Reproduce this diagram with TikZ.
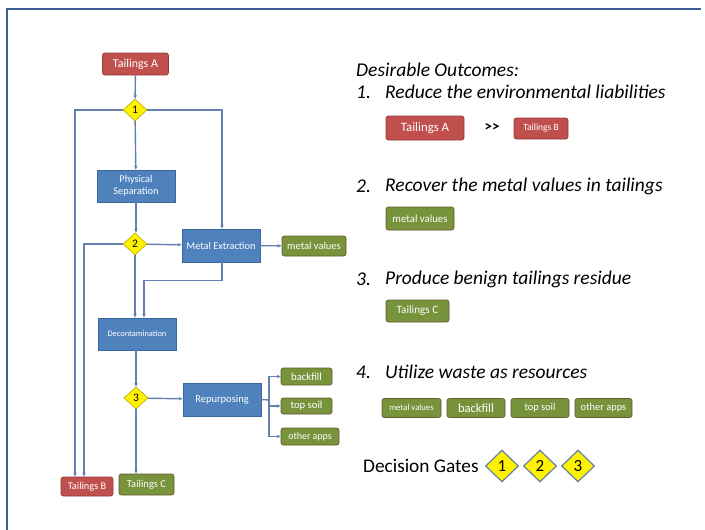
\documentclass[tikz,border=0pt]{standalone}
\usepackage{fontspec}
\setmainfont{Carlito}
\usetikzlibrary{shapes.geometric,arrows.meta,calc}
\definecolor{bluefill}{HTML}{4F81BD}
\definecolor{blueedge}{HTML}{3A679C}
\definecolor{redfill}{HTML}{C0504D}
\definecolor{rededge}{HTML}{9B3B38}
\definecolor{greenfill}{HTML}{77933C}
\definecolor{greenedge}{HTML}{6B5A2E}
\definecolor{linecol}{HTML}{6580B0}
\definecolor{gateedge}{HTML}{B8A800}
\definecolor{frame}{HTML}{3E5F95}
\tikzset{
  proc/.style={draw=blueedge, fill=bluefill, line width=0.8pt, text=white, align=center, inner sep=0pt, font=\fontsize{10.3}{12}\selectfont},
  redbox/.style={draw=rededge, fill=redfill, line width=0.8pt, rounded corners=2.5pt, text=white, inner sep=0pt, font=\fontsize{10.5}{12}\selectfont},
  greenbox/.style={draw=greenedge, fill=greenfill, line width=0.8pt, rounded corners=2.5pt, text=white, inner sep=0pt, font=\fontsize{10.5}{12}\selectfont},
  gate/.style={diamond, draw=gateedge, fill=yellow, line width=0.6pt, inner sep=0pt, minimum width=24pt, minimum height=22pt, font=\fontsize{11.5}{12}\selectfont},
  biggate/.style={diamond, draw=frame!80, fill=yellow, line width=1.2pt, inner sep=0pt, minimum width=33pt, minimum height=32pt, font=\fontsize{17}{18}\selectfont},
  conn/.style={draw=linecol, line width=1.4pt},
  arr/.style={conn, -{Stealth[length=4pt,width=3.5pt]}},
  heading/.style={anchor=west, inner sep=0pt, font=\fontsize{19.5}{22}\selectfont\itshape},
}
\begin{document}
\begin{tikzpicture}[x=1pt,y=-1pt]
\useasboundingbox (0,0) rectangle (705,530);
\fill[white] (0,0) rectangle (705,530);
% frame
\draw[frame, line width=2.5pt] (7,530) -- (7,9) -- (701,9);

% flow chart nodes
\node[redbox, minimum width=66pt, minimum height=22pt, font=\fontsize{12}{14}\selectfont] (tA) at (135.5,64) {Tailings A};
\node[gate] (d1) at (135,110) {1};
\node[proc, minimum width=78pt, minimum height=32pt] (ps) at (136,186) {Physical\\Separation};
\node[gate] (d2) at (135,244) {2};
\node[proc, minimum width=78pt, minimum height=33pt] (me) at (221,245.5) {Metal Extraction};
\node[greenbox, minimum width=64pt, minimum height=20pt] (mv) at (314,246) {metal values};
\node[proc, minimum width=78pt, minimum height=32pt, font=\fontsize{8.4}{10}\selectfont] (dc) at (137,334) {Decontamination};
\node[gate] (d3) at (136,398) {3};
\node[proc, minimum width=78pt, minimum height=33pt, font=\fontsize{10.5}{12}\selectfont] (rp) at (222,399.5) {Repurposing};
\node[greenbox, minimum width=51pt, minimum height=17pt, font=\fontsize{10.7}{12}\selectfont] (bf) at (306.5,376.5) {backfill};
\node[greenbox, minimum width=51pt, minimum height=16pt, font=\fontsize{10.7}{12}\selectfont] (ts) at (306.5,406) {top soil};
\node[greenbox, minimum width=58pt, minimum height=17pt, font=\fontsize{9.9}{11}\selectfont] (oa) at (310,436.5) {other apps};
\node[redbox, minimum width=52pt, minimum height=19pt, font=\fontsize{10.3}{12}\selectfont] (tB) at (87,486.5) {Tailings B};
\node[greenbox, minimum width=55pt, minimum height=21pt, font=\fontsize{10.5}{12}\selectfont] (tC) at (146.5,484.5) {Tailings C};
\coordinate (j) at (269,400);

% connectors
\draw[arr] (tA) -- (d1);
\draw[arr] (d1.west) -| ([xshift=-12pt]tB.north);
\draw[arr] (d1.east) -| ([xshift=1pt]me.north);
\draw[arr] (d1) -- (ps);
\draw[arr] (ps.south) -- (ps.south |- d2.north);
\draw[arr] (d2) -- (me);
\draw[arr] (d2.west) -| ([xshift=-3pt]tB.north);
\draw[arr] (d2.south) -- (d2.south |- dc.north);
\draw[arr] ([xshift=1pt]me.south) -- ++(0,18) -| ([xshift=7pt]dc.north);
\draw[arr] (me) -- (mv);
\draw[arr] (dc.south -| d3.north) -- (d3.north);
\draw[arr] (d3) -- (rp);
\draw[arr] (d3.south) -- (d3.south |- tC.north);
\draw[conn] (rp.east) -- (j);
\draw[arr] (j) |- (bf.west);
\draw[arr] (j) |- (ts.west);
\draw[arr] (j) |- (oa.west);

% right side text
\node[heading] (h0) at (356,70) {Desirable Outcomes:};
\node[heading] (n1) at (356,92) {1.};
\node[heading] (h1) at (385,92) {Reduce the environmental liabilities};
\node[redbox, minimum width=78pt, minimum height=24pt, font=\fontsize{12.8}{14}\selectfont] (rA) at (425,128) {Tailings A};
\node[inner sep=0pt, font=\fontsize{15}{16}\selectfont\bfseries] (gg) at (492,127.5) {>{}>};
\node[redbox, minimum width=54pt, minimum height=21pt, font=\fontsize{9.5}{11}\selectfont] (rB) at (541,128.5) {Tailings B};

\node[heading] (n2) at (356,186) {2.};
\node[heading] (h2) at (385,186) {Recover the metal values in tailings};
\node[greenbox, minimum width=68pt, minimum height=23pt, font=\fontsize{10.8}{12}\selectfont] (rmv) at (420,218.5) {metal values};

\node[heading] (n3) at (356,279) {3.};
\node[heading] (h3) at (385,279) {Produce benign tailings residue};
\node[greenbox, minimum width=63pt, minimum height=22pt, font=\fontsize{11.2}{13}\selectfont] (rC) at (417.5,311) {Tailings C};

\node[heading] (n4) at (356,372) {4.};
\node[heading] (h4) at (385,372) {Utilize waste as resources};
\node[greenbox, minimum width=59pt, minimum height=19pt, font=\fontsize{8.7}{10}\selectfont] (r4a) at (411.5,408) {metal values};
\node[greenbox, minimum width=58pt, minimum height=19pt, font=\fontsize{12.5}{14}\selectfont] (r4b) at (476,408) {backfill};
\node[greenbox, minimum width=58pt, minimum height=19pt, font=\fontsize{10.4}{12}\selectfont] (r4c) at (540,408) {top soil};
\node[greenbox, minimum width=57pt, minimum height=19pt, font=\fontsize{10.4}{12}\selectfont] (r4d) at (603.5,408) {other apps};

\node[anchor=west, inner sep=0pt, font=\fontsize{19.3}{22}\selectfont] (dg) at (363,466) {Decision Gates};
\node[biggate] (g1) at (502,466) {1};
\node[biggate] (g2) at (540,466) {2};
\node[biggate] (g3) at (578,466) {3};
\end{tikzpicture}
\end{document}
